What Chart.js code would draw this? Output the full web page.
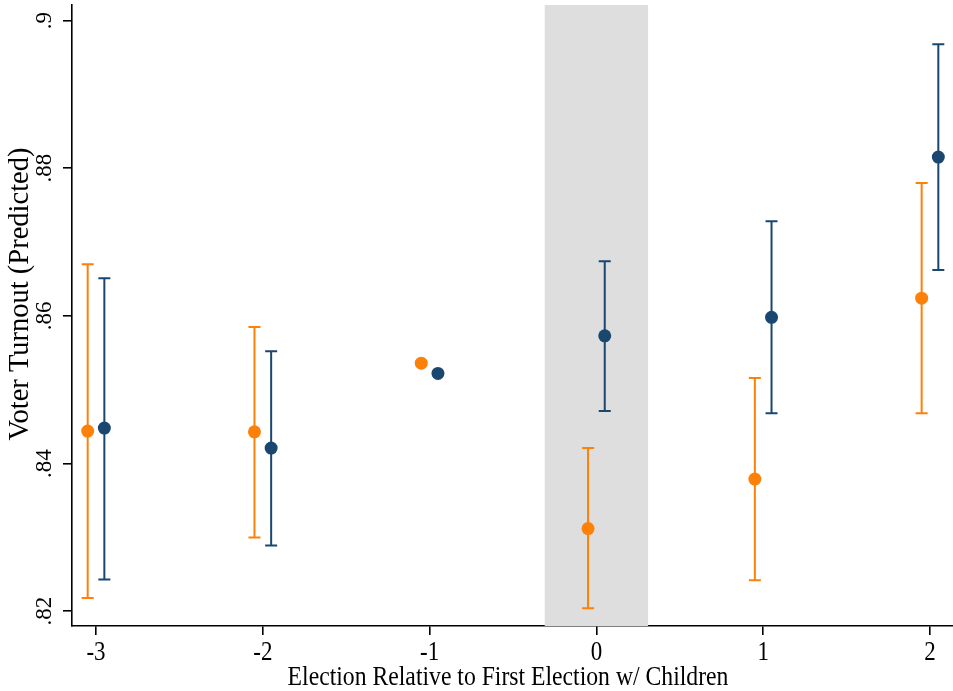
<!DOCTYPE html>
<html>
<head>
<meta charset="utf-8">
<script src="https://cdn.jsdelivr.net/npm/chart.js@4/dist/chart.umd.min.js"></script>
<style>
  html, body { margin: 0; padding: 0; background: #fff; }
  #wrap { width: 953px; height: 691px; }
</style>
</head>
<body>
<div id="wrap"><canvas id="turnout-chart" width="953" height="691"></canvas></div>
<script>
// elections relative to first election with children
var elections = [-3, -2, -1, 0, 1, 2];
var xLabels = ['-3', '-2', '-1', '0', '1', '2'];
var yTicks = [0.82, 0.84, 0.86, 0.88, 0.9];
var yLabels = ['.82', '.84', '.86', '.88', '.9'];
var band = [-0.31, 0.31];

// orange series
var orangeMean = [0.8444, 0.8443, 0.8536, 0.8312, 0.8379, 0.8624];
var orangeLo   = [0.8218, 0.8300, null,   0.8204, 0.8242, 0.8468];
var orangeHi   = [0.8670, 0.8585, null,   0.8421, 0.8516, 0.8780];

// navy series
var navyMean = [0.8448, 0.8421, 0.8522, 0.8573, 0.8598, 0.8815];
var navyLo   = [0.8243, 0.8289, null,   0.8471, 0.8468, 0.8662];
var navyHi   = [0.8651, 0.8552, null,   0.8674, 0.8728, 0.8968];

var orange = '#fd8008';
var navy = '#1a476f';
var serif = '"Liberation Serif", "Times New Roman", serif';

function points(means, shift){
  return elections.map(function(e, i){ return {x: e + shift, y: means[i]}; });
}

// grey shaded band behind everything
var bandPlugin = {
  id: 'band',
  beforeDatasetsDraw: function(chart){
    var c = chart.ctx, a = chart.chartArea, xs = chart.scales.x;
    var x1 = xs.getPixelForValue(band[0]), x2 = xs.getPixelForValue(band[1]);
    c.save();
    c.fillStyle = '#dedede';
    c.fillRect(x1, a.top, x2 - x1, a.bottom - a.top);
    c.restore();
  }
};

// confidence interval bars with caps
var errorBars = {
  id: 'errorBars',
  beforeDatasetsDraw: function(chart){
    var c = chart.ctx, xs = chart.scales.x, ys = chart.scales.y;
    chart.data.datasets.forEach(function(ds){
      c.save();
      c.strokeStyle = ds.borderColor;
      c.lineWidth = 2;
      ds.data.forEach(function(p, i){
        if (ds.errLo[i] === null) return;
        var x = xs.getPixelForValue(p.x);
        var yl = ys.getPixelForValue(ds.errLo[i]);
        var yh = ys.getPixelForValue(ds.errHi[i]);
        c.beginPath();
        c.moveTo(x, yl); c.lineTo(x, yh);
        c.moveTo(x - 6, yl); c.lineTo(x + 6, yl);
        c.moveTo(x - 6, yh); c.lineTo(x + 6, yh);
        c.stroke();
      });
      c.restore();
    });
  }
};

// tick labels and axis titles (stata style, y labels rotated)
var axisText = {
  id: 'axisText',
  afterDraw: function(chart){
    var c = chart.ctx, xs = chart.scales.x, ys = chart.scales.y;
    c.save();
    c.fillStyle = '#000';
    c.textAlign = 'center';
    c.textBaseline = 'alphabetic';

    c.font = '23px ' + serif;
    elections.forEach(function(v, i){
      c.save();
      c.translate(xs.getPixelForValue(v), 660);
      c.scale(1, 1.15);
      c.fillText(xLabels[i], 0, 0);
      c.restore();
    });
    yTicks.forEach(function(v, i){
      c.save();
      c.translate(51, ys.getPixelForValue(v));
      c.rotate(-Math.PI / 2);
      c.fillText(yLabels[i], 0, 0);
      c.restore();
    });

    c.save();
    c.font = '23.7px ' + serif;
    c.translate(508, 685);
    c.scale(1, 1.15);
    c.fillText('Election Relative to First Election w/ Children', 0, 0);
    c.restore();

    c.save();
    c.font = '28.5px ' + serif;
    c.translate(28, 294);
    c.rotate(-Math.PI / 2);
    c.fillText('Voter Turnout (Predicted)', 0, 0);
    c.restore();

    c.restore();
  }
};

var ctx = document.getElementById('turnout-chart');
var myChart = new Chart(ctx, {
  type: 'scatter',
  data: {
    datasets: [{
      data: points(orangeMean, -0.05),
      errLo: orangeLo, errHi: orangeHi,
      backgroundColor: orange, borderColor: orange,
      pointRadius: 6.5, pointBorderWidth: 0
    }, {
      data: points(navyMean, 0.05),
      errLo: navyLo, errHi: navyHi,
      backgroundColor: navy, borderColor: navy,
      pointRadius: 6.5, pointBorderWidth: 0
    }]
  },
  options: {
    responsive: false,
    animation: false,
    layout: { autoPadding: false, padding: { top: 5, right: 0, left: 0, bottom: 0 } },
    plugins: { legend: { display: false }, tooltip: { enabled: false } },
    scales: {
      x: {
        type: 'linear',
        min: -3.144, max: 2.138,
        afterBuildTicks: function(s){ s.ticks = elections.map(function(v){ return {value: v}; }); },
        afterFit: function(s){ s.height = 65; },
        border: { display: true, color: '#000', width: 1.6 },
        grid: { drawOnChartArea: false, drawTicks: true, tickLength: 9, color: '#000', lineWidth: 1.6 },
        ticks: { display: false }
      },
      y: {
        min: 0.818, max: 0.9021,
        afterBuildTicks: function(s){ s.ticks = yTicks.map(function(v){ return {value: v}; }); },
        afterFit: function(s){ s.width = 72; },
        border: { display: true, color: '#000', width: 1.6 },
        grid: { drawOnChartArea: false, drawTicks: true, tickLength: 9, color: '#000', lineWidth: 1.6 },
        ticks: { display: false }
      }
    }
  },
  plugins: [bandPlugin, errorBars, axisText]
});
</script>
</body>
</html>
